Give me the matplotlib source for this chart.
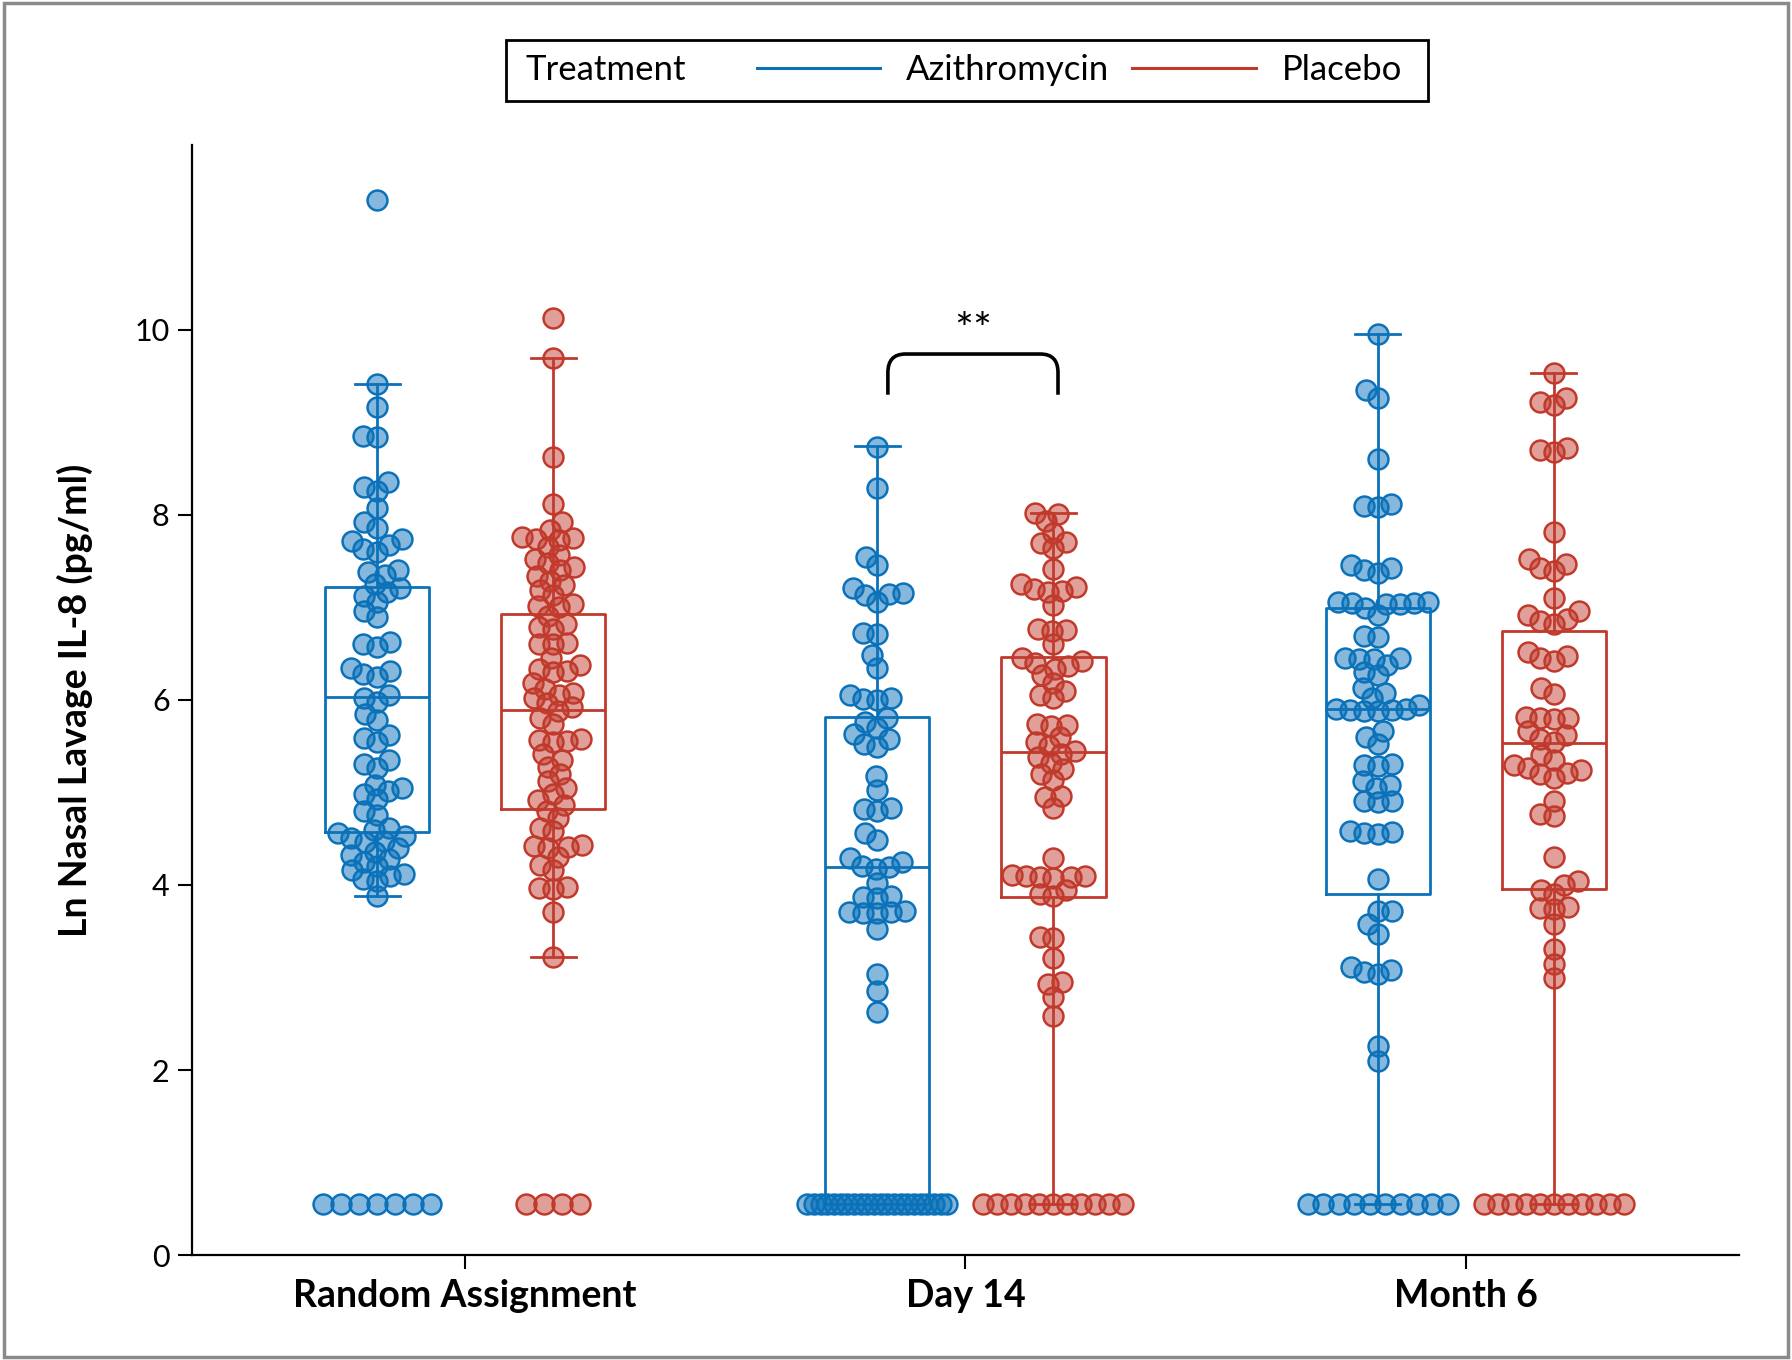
import numpy as np
import matplotlib
matplotlib.use('Agg')
import matplotlib.pyplot as plt
from matplotlib.lines import Line2D
from matplotlib.patches import Rectangle, PathPatch
from matplotlib.path import Path

plt.rcParams['font.family'] = ['Lato', 'DejaVu Sans']

timepoints = ['Random Assignment', 'Day 14', 'Month 6']
treatments = ['Azithromycin', 'Placebo']
floor_value = 0.55

# Ln nasal lavage IL-8 values (floor = below detection)
azithro_random = [11.41, 9.42, 9.17, 8.85, 8.84, 8.36, 8.30, 8.26, 8.08, 7.92, 7.86,
                  7.74, 7.72, 7.68, 7.63, 7.60, 7.41, 7.38, 7.35, 7.25, 7.21, 7.17,
                  7.12, 7.06, 6.96, 6.90, 6.63, 6.60, 6.57, 6.35, 6.31, 6.28, 6.25,
                  6.05, 6.02, 5.98, 5.85, 5.78, 5.62, 5.59, 5.55, 5.35, 5.31, 5.27,
                  5.08, 5.05, 5.02, 4.98, 4.93, 4.80, 4.76, 4.62, 4.59, 4.56, 4.53,
                  4.51, 4.48, 4.46, 4.40, 4.36, 4.32, 4.28, 4.25, 4.21, 4.16, 4.12,
                  4.10, 4.07, 4.04, 3.88] + [floor_value] * 7
placebo_random = [10.13, 9.70, 8.63, 8.12, 7.92, 7.84, 7.76, 7.75, 7.74, 7.73, 7.65,
                  7.57, 7.52, 7.48, 7.44, 7.40, 7.34, 7.29, 7.24, 7.19, 7.14, 7.04,
                  7.02, 7.00, 6.91, 6.82, 6.79, 6.77, 6.62, 6.61, 6.60, 6.45, 6.38,
                  6.33, 6.31, 6.30, 6.18, 6.12, 6.08, 6.05, 6.02, 5.97, 5.92, 5.88,
                  5.80, 5.74, 5.58, 5.57, 5.56, 5.55, 5.42, 5.35, 5.28, 5.20, 5.12,
                  5.05, 4.98, 4.92, 4.86, 4.80, 4.72, 4.62, 4.58, 4.43, 4.42, 4.41,
                  4.40, 4.30, 4.22, 4.16, 3.98, 3.97, 3.96, 3.71, 3.22] + [floor_value] * 4
azithro_day14 = [8.74, 8.29, 7.55, 7.46, 7.21, 7.16, 7.15, 7.14, 7.06, 6.72, 6.71,
                 6.49, 6.35, 6.05, 6.02, 6.01, 6.00, 5.81, 5.76, 5.70, 5.63, 5.58,
                 5.52, 5.49, 5.18, 5.03, 4.83, 4.82, 4.80, 4.56, 4.49, 4.29, 4.25,
                 4.21, 4.19, 4.17, 4.02, 3.88, 3.87, 3.86, 3.72, 3.71, 3.71, 3.70,
                 3.70, 3.52, 3.04, 2.85, 2.63] + [floor_value] * 22
placebo_day14 = [8.02, 8.01, 7.93, 7.80, 7.71, 7.70, 7.64, 7.42, 7.25, 7.22, 7.20,
                 7.18, 7.17, 7.03, 6.77, 6.76, 6.75, 6.60, 6.45, 6.42, 6.40, 6.37,
                 6.34, 6.27, 6.18, 6.10, 6.05, 6.02, 5.74, 5.73, 5.72, 5.60, 5.55,
                 5.50, 5.45, 5.42, 5.38, 5.32, 5.25, 5.20, 5.14, 4.96, 4.95, 4.83,
                 4.29, 4.11, 4.10, 4.10, 4.09, 4.09, 4.08, 3.95, 3.90, 3.88, 3.44,
                 3.43, 3.21, 2.95, 2.93, 2.79, 2.58] + [floor_value] * 11
azithro_month6 = [9.96, 9.35, 9.26, 8.61, 8.12, 8.10, 8.09, 7.46, 7.43, 7.40, 7.37,
                  7.06, 7.06, 7.05, 7.05, 7.04, 7.04, 6.99, 6.92, 6.69, 6.68, 6.45,
                  6.45, 6.44, 6.44, 6.38, 6.30, 6.27, 6.13, 6.08, 6.02, 5.95, 5.90,
                  5.90, 5.89, 5.89, 5.88, 5.88, 5.66, 5.60, 5.52, 5.31, 5.30, 5.29,
                  5.12, 5.08, 5.05, 4.91, 4.91, 4.90, 4.58, 4.57, 4.56, 4.55, 4.06,
                  3.72, 3.72, 3.58, 3.47, 3.11, 3.08, 3.06, 3.04, 2.26, 2.10] + [floor_value] * 10
placebo_month6 = [9.53, 9.26, 9.22, 9.19, 8.72, 8.70, 8.68, 7.82, 7.52, 7.47, 7.43,
                  7.39, 7.10, 6.96, 6.92, 6.88, 6.85, 6.82, 6.52, 6.48, 6.45, 6.42,
                  6.13, 6.06, 5.82, 5.81, 5.80, 5.79, 5.66, 5.62, 5.58, 5.55, 5.41,
                  5.35, 5.30, 5.27, 5.24, 5.21, 5.20, 5.16, 4.91, 4.77, 4.75, 4.30,
                  4.04, 4.00, 3.95, 3.90, 3.76, 3.75, 3.74, 3.58, 3.31, 3.15, 2.99] + [floor_value] * 11

# box summaries as drawn: low whisker, Q1, median, Q3, high whisker
azithro_boxes = [(3.88, 4.57, 6.03, 7.22, 9.42),
                 (0.55, 0.55, 4.19, 5.82, 8.75),
                 (0.55, 3.90, 5.90, 6.99, 9.96)]
placebo_boxes = [(3.22, 4.82, 5.89, 6.93, 9.70),
                 (0.55, 3.87, 5.44, 6.46, 8.02),
                 (0.55, 3.96, 5.54, 6.75, 9.53)]

edge_colors = ['#0b72b9', '#c0392b']
face_colors = [(0.05, 0.45, 0.73, 0.5), (0.76, 0.25, 0.20, 0.5)]


def swarm_offsets(values, x_per_px, y_per_px, gap=14, row_step=18, row_max=140):
    values = np.asarray(values, dtype=float)
    offsets = np.zeros(len(values))
    ypx = values / y_per_px
    # tied values (the detection floor) go side by side in one row
    uniq, counts = np.unique(values, return_counts=True)
    tied = uniq[counts > 2]
    free = ~np.isin(values, tied)
    for v in tied:
        idx = np.where(values == v)[0]
        width = min((len(idx) - 1) * row_step, row_max)
        offsets[idx] = np.linspace(-width / 2, width / 2, len(idx))
    placed = []
    for i in np.argsort(values):
        if not free[i]:
            continue
        y = ypx[i]
        near = [(px, py) for px, py in placed if abs(py - y) < gap]
        cands = [0.0]
        for px, py in near:
            dx = np.sqrt(gap ** 2 - (py - y) ** 2)
            cands += [px - dx, px + dx]
        cands.sort(key=abs)
        best = cands[-1]
        for c in cands:
            if all((c - px) ** 2 + (y - py) ** 2 >= gap ** 2 - 1e-6 for px, py in near):
                best = c
                break
        offsets[i] = best
        placed.append((best, y))
    return offsets * x_per_px


fig = plt.figure(figsize=(17.92, 13.6), dpi=100)
ax = fig.add_axes([0.1071, 0.0772, 0.8633, 0.8162])
ax.set_xlim(-0.546, 2.546)
ax.set_ylim(0, 12)

x0, y0 = ax.transData.transform((0, 0))
x1, y1 = ax.transData.transform((1, 1))
x_per_px = 1 / (x1 - x0)
y_per_px = 1 / (y1 - y0)

series = [[azithro_random, azithro_day14, azithro_month6],
          [placebo_random, placebo_day14, placebo_month6]]
boxes = [azithro_boxes, placebo_boxes]
shift = [-0.176, 0.176]

for k in range(2):
    pos = np.arange(3) + shift[k]
    stats = [dict(whislo=b[0], q1=b[1], med=b[2], q3=b[3], whishi=b[4], fliers=[])
             for b in boxes[k]]
    lp = dict(color=edge_colors[k], linewidth=2.0)
    ax.bxp(stats, positions=pos, widths=0.208, capwidths=0.09, showfliers=False,
           boxprops=lp, whiskerprops=lp, capprops=lp, medianprops=lp,
           manage_ticks=False, zorder=2)
    for g in range(3):
        vals = np.asarray(series[k][g])
        xs = pos[g] + swarm_offsets(vals, x_per_px, y_per_px)
        ax.scatter(xs, vals, s=205, facecolor=face_colors[k],
                   edgecolor=edge_colors[k], linewidths=1.8, zorder=3)

# significance bracket between day 14 groups
bracket_x = (0.845, 1.185)
bracket_lo, bracket_hi, r = 9.30, 9.74, 0.035
bx0, bx1 = bracket_x
verts = [(bx0, bracket_lo), (bx0, bracket_hi - 0.2), (bx0, bracket_hi), (bx0 + r, bracket_hi),
         (bx1 - r, bracket_hi), (bx1, bracket_hi), (bx1, bracket_hi - 0.2), (bx1, bracket_lo)]
codes = [Path.MOVETO, Path.LINETO, Path.CURVE3, Path.CURVE3,
         Path.LINETO, Path.CURVE3, Path.CURVE3, Path.LINETO]
ax.add_patch(PathPatch(Path(verts, codes), fill=False, lw=2.6, ec='black',
                       capstyle='butt'))
ax.text(np.mean(bracket_x), 9.98, '**', ha='center', va='center', fontsize=32)

ax.spines['top'].set_visible(False)
ax.spines['right'].set_visible(False)
ax.spines['left'].set_linewidth(1.6)
ax.spines['bottom'].set_linewidth(1.6)
ax.set_yticks([0, 2, 4, 6, 8, 10])
ax.set_xticks(range(3))
ax.set_xticklabels(timepoints, fontsize=27, fontweight='bold')
ax.tick_params(axis='y', labelsize=22, length=10, width=1.5, pad=6)
ax.tick_params(axis='x', length=10, width=1.5, pad=7)
ax.set_ylabel('Ln Nasal Lavage IL-8 (pg/ml)', fontsize=27, fontweight='bold')
ax.yaxis.set_label_coords(-0.064, 0.5)

# legend box across the top
fig.patches.append(Rectangle((0.2824, 0.9257), 0.5146, 0.0449, transform=fig.transFigure,
                             fill=False, lw=2.0, ec='black'))
fig.text(0.2934, 0.9485, 'Treatment', fontsize=25, va='center', ha='left')
handles = [Line2D([], [], color=c, lw=2.2) for c in edge_colors]
fig.legend(handles, treatments, loc='center left', bbox_to_anchor=(0.4222, 0.9485),
           ncol=2, frameon=False, fontsize=25, handlelength=3.55, handletextpad=0.76,
           columnspacing=0.66, borderpad=0, borderaxespad=0)

# grey frame around the figure
fig.patches.append(Rectangle((0.002, 0.002), 0.996, 0.996, transform=fig.transFigure,
                             fill=False, lw=2.5, ec='#8a8a8a'))

fig.savefig('out.png', dpi=100)
